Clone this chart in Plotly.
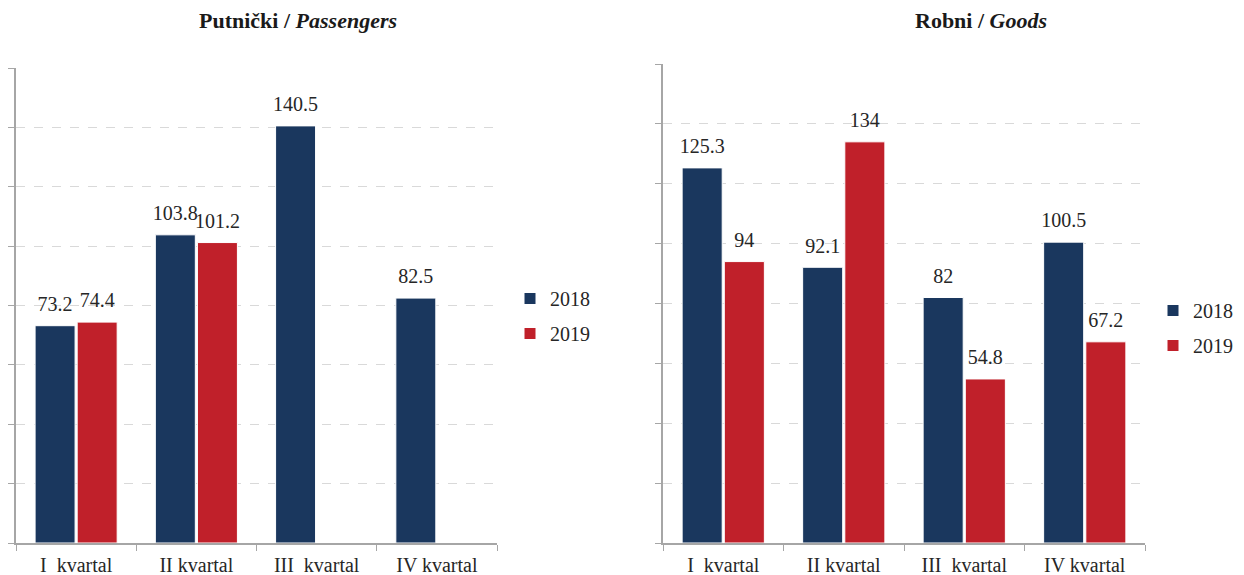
import plotly.graph_objects as go

categories = ["I\u00a0 kvartal", "II kvartal", "III\u00a0 kvartal", "IV kvartal"]
passengers_2018 = [73.2, 103.8, 140.5, 82.5]
passengers_2019 = [74.4, 101.2, None, None]
goods_2018 = [125.3, 92.1, 82, 100.5]
goods_2019 = [94, 134, 54.8, 67.2]

C18 = "#1a375e"
C19 = "#c0202a"
FONT = "Liberation Serif, Times New Roman, serif"
OFF = 8  # page body margin
W, H = 1244 - OFF, 575 - OFF


def px(x):
    return (x - OFF) / W


def py(y):
    return (H - (y - OFF)) / H


def lab(vals):
    return ["" if v is None else f"{v:g}" for v in vals]


fig = go.Figure()


def add_bar(x, y, name, color, xa, ya, legend, group, og):
    fig.add_trace(go.Bar(
        x=x, y=y, name=name, marker=dict(color=color, line=dict(color="white", width=1)),
        offsetgroup=og, alignmentgroup="a",
        xaxis=xa, yaxis=ya, legend=legend, legendgroup=group, hoverinfo="skip",
    ))
    fig.add_trace(go.Scatter(
        x=x, y=y, mode="markers+text", text=lab(y), textposition="top center",
        textfont=dict(family=FONT, size=20, color="#262626"),
        marker=dict(size=14, opacity=0), cliponaxis=False,
        offsetgroup=og, alignmentgroup="a",
        xaxis=xa, yaxis=ya, showlegend=False, hoverinfo="skip",
    ))


add_bar(categories, passengers_2018, "2018", C18, "x", "y", "legend", "p18", "18")
add_bar(categories, passengers_2019, "2019", C19, "x", "y", "legend", "p19", "19")
add_bar(categories, goods_2018, "2018", C18, "x2", "y2", "legend2", "g18", "18")
add_bar(categories, goods_2019, "2019", C19, "x2", "y2", "legend2", "g19", "19")

axis_col = "#a6a6a6"
xcommon = dict(type="category", showline=True, linecolor=axis_col, linewidth=1.5,
               ticks="outside", tickson="boundaries", ticklen=6, tickcolor=axis_col,
               tickfont=dict(family=FONT, size=20, color="#262626"), showgrid=False,
               automargin=False, ticklabelstandoff=3)
ycommon = dict(range=[0, 160], dtick=20, showticklabels=False, showline=True,
               linecolor=axis_col, linewidth=1.5, ticks="outside", ticklen=6,
               tickcolor=axis_col, showgrid=True, gridcolor="#d9d9d9", griddash="dash",
               gridwidth=1, zeroline=False, automargin=False)

fig.update_layout(
    width=W, height=H,
    margin=dict(l=0, r=0, t=0, b=0),
    paper_bgcolor="white", plot_bgcolor="white",
    barmode="group", bargap=0.3, bargroupgap=0.05,
    scattermode="group", scattergap=0.3,
    font=dict(family=FONT, color="#262626"),
    xaxis=dict(domain=[px(16), px(497)], anchor="y", **xcommon),
    yaxis=dict(domain=[py(543), py(68)], anchor="x", **ycommon),
    xaxis2=dict(domain=[px(663), px(1145)], anchor="y2", **xcommon),
    yaxis2=dict(domain=[py(543), py(64)], anchor="x2", **ycommon),
    legend=dict(x=px(510), y=py(316), xanchor="left", yanchor="middle",
                font=dict(family=FONT, size=20, color="#262626"),
                tracegroupgap=6, traceorder="grouped", bgcolor="rgba(0,0,0,0)"),
    legend2=dict(x=px(1153), y=py(328), xanchor="left", yanchor="middle",
                 font=dict(family=FONT, size=20, color="#262626"),
                 tracegroupgap=6, traceorder="grouped", bgcolor="rgba(0,0,0,0)"),
    annotations=[
        dict(text="<b>Putnički / <i>Passengers</i></b>", x=px(298), y=py(20),
             xref="paper", yref="paper", xanchor="center", yanchor="middle",
             showarrow=False, font=dict(family=FONT, size=22, color="#1a1a1a")),
        dict(text="<b>Robni / <i>Goods</i></b>", x=px(981), y=py(20),
             xref="paper", yref="paper", xanchor="center", yanchor="middle",
             showarrow=False, font=dict(family=FONT, size=22, color="#1a1a1a")),
    ],
)

fig.write_html("out.html")
